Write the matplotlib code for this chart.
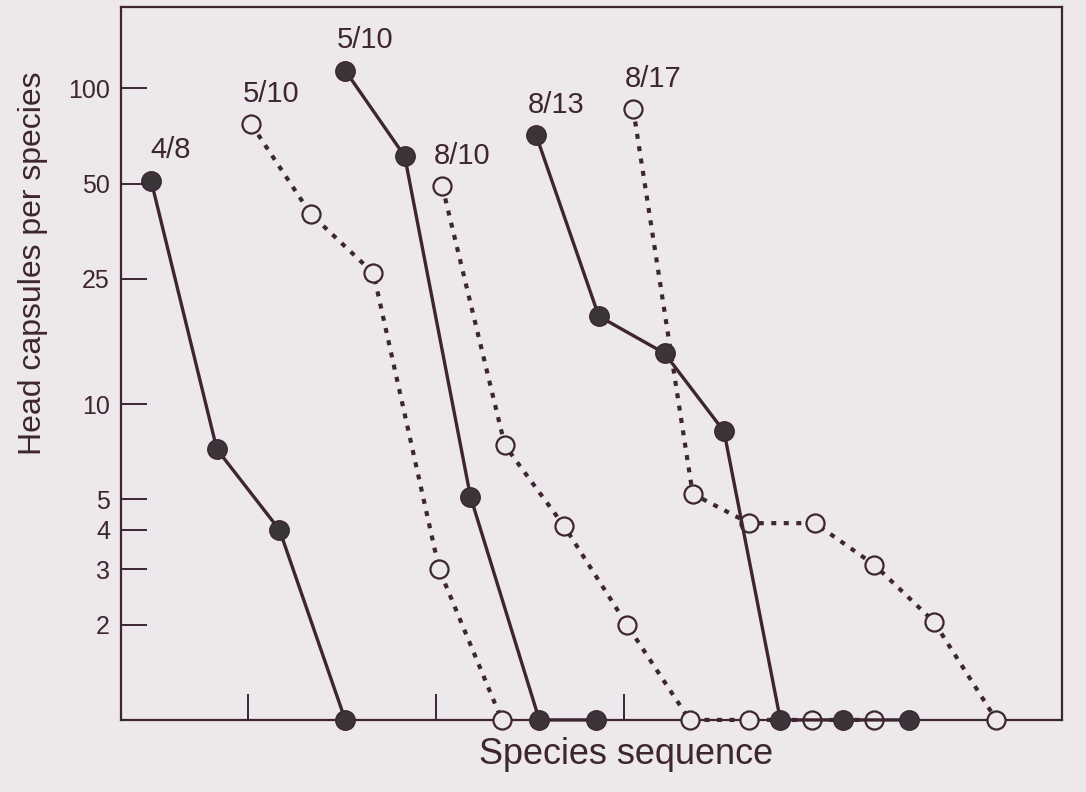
import matplotlib.pyplot as plt
import numpy as np

# species sequence positions and head capsule counts
labels = ['4/8', '5/10', '5/10', '8/10', '8/13', '8/17']
filled = [True, False, True, False, True, False]

x_48 = [0.45, 1.5, 2.5, 3.55]
y_48 = [51, 7.2, 4.0, 1]

x_510o = [2.05, 3.0, 4.0, 5.05, 6.05]
y_510o = [77, 40, 26, 3.0, 1]

x_510f = [3.55, 4.5, 5.55, 6.65, 7.55]
y_510f = [114, 61, 5.1, 1, 1]

x_810 = [5.1, 6.1, 7.05, 8.05, 9.05, 10.0, 11.0, 12.0]
y_810 = [49, 7.4, 4.1, 2.0, 1, 1, 1, 1]

x_813 = [6.6, 7.6, 8.65, 9.6, 10.5, 11.5, 12.55]
y_813 = [71, 19, 14.5, 8.2, 1, 1, 1]

x_817 = [8.15, 9.1, 10.0, 11.05, 12.0, 12.95, 13.95]
y_817 = [86, 5.2, 4.2, 4.2, 3.1, 2.05, 1]

xs = [x_48, x_510o, x_510f, x_810, x_813, x_817]
ys = [y_48, y_510o, y_510f, y_810, y_813, y_817]

yticks = [2, 3, 4, 5, 10, 25, 50, 100]
xticks = [2, 5, 8]

ink = '#3e2631'
dot = '#3b3539'
bg = '#ece8eb'

plt.rcParams['font.family'] = ['Liberation Sans', 'DejaVu Sans']

fig = plt.figure(figsize=(10.86, 7.92), dpi=100, facecolor=bg)
ax = fig.add_axes([0.1115, 0.091, 0.8665, 0.9])
ax.set_facecolor(bg)

# open series first so the filled dots sit on top
order = [1, 3, 5, 0, 2, 4]
for i in order:
    if filled[i]:
        ax.plot(xs[i], ys[i], '-', color=ink, lw=2.4, marker='o', ms=14,
                mfc=dot, mec=ink, mew=1.0, clip_on=False, zorder=4)
    else:
        ax.plot(xs[i], ys[i], color=ink, lw=3.0, ls=(0, (1.2, 1.8)),
                dash_capstyle='butt', marker='o', ms=13, mfc=bg, mec=ink,
                mew=1.6, clip_on=False, zorder=3)
    ax.annotate(labels[i], (xs[i][0], ys[i][0]), xytext=(14, 22),
                textcoords='offset points', ha='center', va='center',
                fontsize=21, color=ink)

ax.set_yscale('log')
ax.set_ylim(1, 181)
ax.set_xlim(-0.03, 15.0)
ax.set_yticks(yticks)
ax.set_yticklabels([str(t) for t in yticks])
ax.yaxis.set_minor_locator(plt.NullLocator())
ax.set_xticks(xticks)
ax.set_xticklabels([])
ax.tick_params(axis='both', direction='in', length=19, width=1.4, color=ink,
               labelsize=18, labelcolor=ink, pad=8)
for s in ax.spines.values():
    s.set_color(ink)
    s.set_linewidth(1.6)

fig.text(0.030, 0.667, 'Head capsules per species', rotation=90,
         ha='center', va='center', fontsize=23, color=ink)
fig.text(0.5765, 0.047, 'Species sequence', ha='center', va='center',
         fontsize=26, color=ink)

fig.savefig('out.png', dpi=100, facecolor=bg)
